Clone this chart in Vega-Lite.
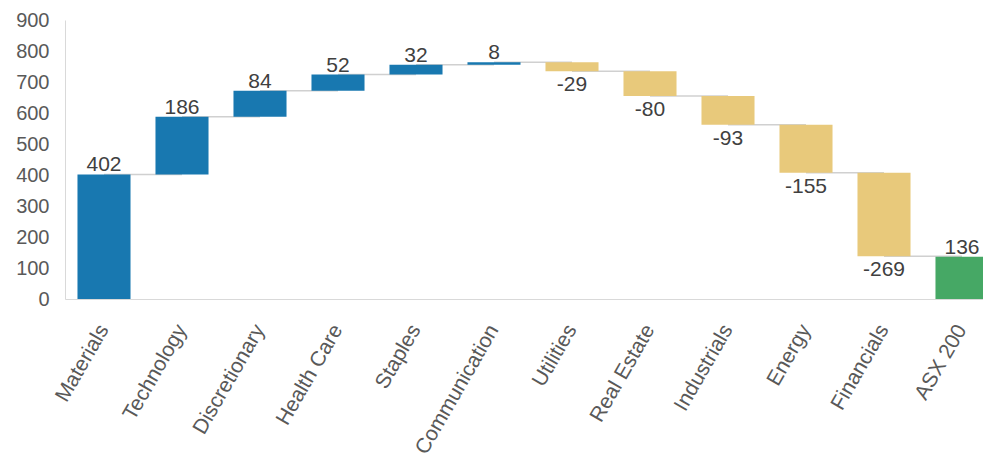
{
  "$schema": "https://vega.github.io/schema/vega-lite/v6.json",
  "width": 918,
  "height": 279,
  "autosize": {"type": "none"},
  "padding": {"left": 65, "top": 20, "right": 0, "bottom": 163},
  "background": "white",
  "config": {
    "view": {"stroke": null},
    "font": "Liberation Sans",
    "axis": {"labelFont": "Liberation Sans", "labelColor": "#595959", "domainColor": "#d9d9d9", "grid": false, "ticks": false, "labelOverlap": false}
  },
  "data": {
    "values": [
      {"category": "Materials", "next": "Technology", "start": 0, "end": 402, "value": 402, "type": "up"},
      {"category": "Technology", "next": "Discretionary", "start": 402, "end": 588, "value": 186, "type": "up"},
      {"category": "Discretionary", "next": "Health Care", "start": 588, "end": 672, "value": 84, "type": "up"},
      {"category": "Health Care", "next": "Staples", "start": 672, "end": 724, "value": 52, "type": "up"},
      {"category": "Staples", "next": "Communication", "start": 724, "end": 756, "value": 32, "type": "up"},
      {"category": "Communication", "next": "Utilities", "start": 756, "end": 764, "value": 8, "type": "up"},
      {"category": "Utilities", "next": "Real Estate", "start": 764, "end": 735, "value": -29, "type": "down"},
      {"category": "Real Estate", "next": "Industrials", "start": 735, "end": 655, "value": -80, "type": "down"},
      {"category": "Industrials", "next": "Energy", "start": 655, "end": 562, "value": -93, "type": "down"},
      {"category": "Energy", "next": "Financials", "start": 562, "end": 407, "value": -155, "type": "down"},
      {"category": "Financials", "next": "ASX 200", "start": 407, "end": 138, "value": -269, "type": "down"},
      {"category": "ASX 200", "next": null, "start": 0, "end": 136, "value": 136, "type": "total"}
    ]
  },
  "encoding": {
    "x": {
      "field": "category",
      "type": "nominal",
      "sort": null,
      "scale": {"range": [0, 936], "paddingInner": 0.32, "paddingOuter": 0.16},
      "axis": {"title": null, "labelAngle": -60, "labelFontSize": 21, "labelPadding": 27, "domain": true}
    }
  },
  "layer": [
    {
      "transform": [{"filter": "datum.next != null"}],
      "mark": {"type": "rule", "color": "#d0d0d0", "strokeWidth": 1.5},
      "encoding": {
        "x2": {"field": "next"},
        "y": {
          "field": "end",
          "type": "quantitative",
          "scale": {"domain": [0, 900], "nice": false},
          "axis": {"title": null, "values": [0,100,200,300,400,500,600,700,800,900], "labelFontSize": 20, "labelPadding": 16, "domain": true, "labelOverlap": false}
        }
      }
    },
    {
      "mark": {"type": "bar"},
      "encoding": {
        "y": {
          "field": "start",
          "type": "quantitative",
          "scale": {"domain": [0, 900], "nice": false},
          "axis": {"title": null, "values": [0,100,200,300,400,500,600,700,800,900], "labelFontSize": 20, "labelPadding": 16, "domain": true, "labelOverlap": false}
        },
        "y2": {"field": "end"},
        "color": {
          "field": "type",
          "type": "nominal",
          "scale": {"domain": ["up", "down", "total"], "range": ["#1878b0", "#e8c97b", "#46a865"]},
          "legend": null
        }
      }
    },
    {
      "transform": [{"filter": "datum.value >= 0"}],
      "mark": {"type": "text", "baseline": "alphabetic", "dy": -3, "fontSize": 21, "color": "#404040"},
      "encoding": {
        "y": {
          "field": "end",
          "type": "quantitative",
          "scale": {"domain": [0, 900], "nice": false},
          "axis": {"title": null, "values": [0,100,200,300,400,500,600,700,800,900], "labelFontSize": 20, "labelPadding": 16, "domain": true, "labelOverlap": false}
        },
        "text": {"field": "value", "type": "nominal"}
      }
    },
    {
      "transform": [{"filter": "datum.value < 0"}],
      "mark": {"type": "text", "baseline": "top", "dy": 3, "fontSize": 21, "color": "#404040"},
      "encoding": {
        "y": {
          "field": "end",
          "type": "quantitative",
          "scale": {"domain": [0, 900], "nice": false},
          "axis": {"title": null, "values": [0,100,200,300,400,500,600,700,800,900], "labelFontSize": 20, "labelPadding": 16, "domain": true, "labelOverlap": false}
        },
        "text": {"field": "value", "type": "nominal"}
      }
    }
  ]
}
